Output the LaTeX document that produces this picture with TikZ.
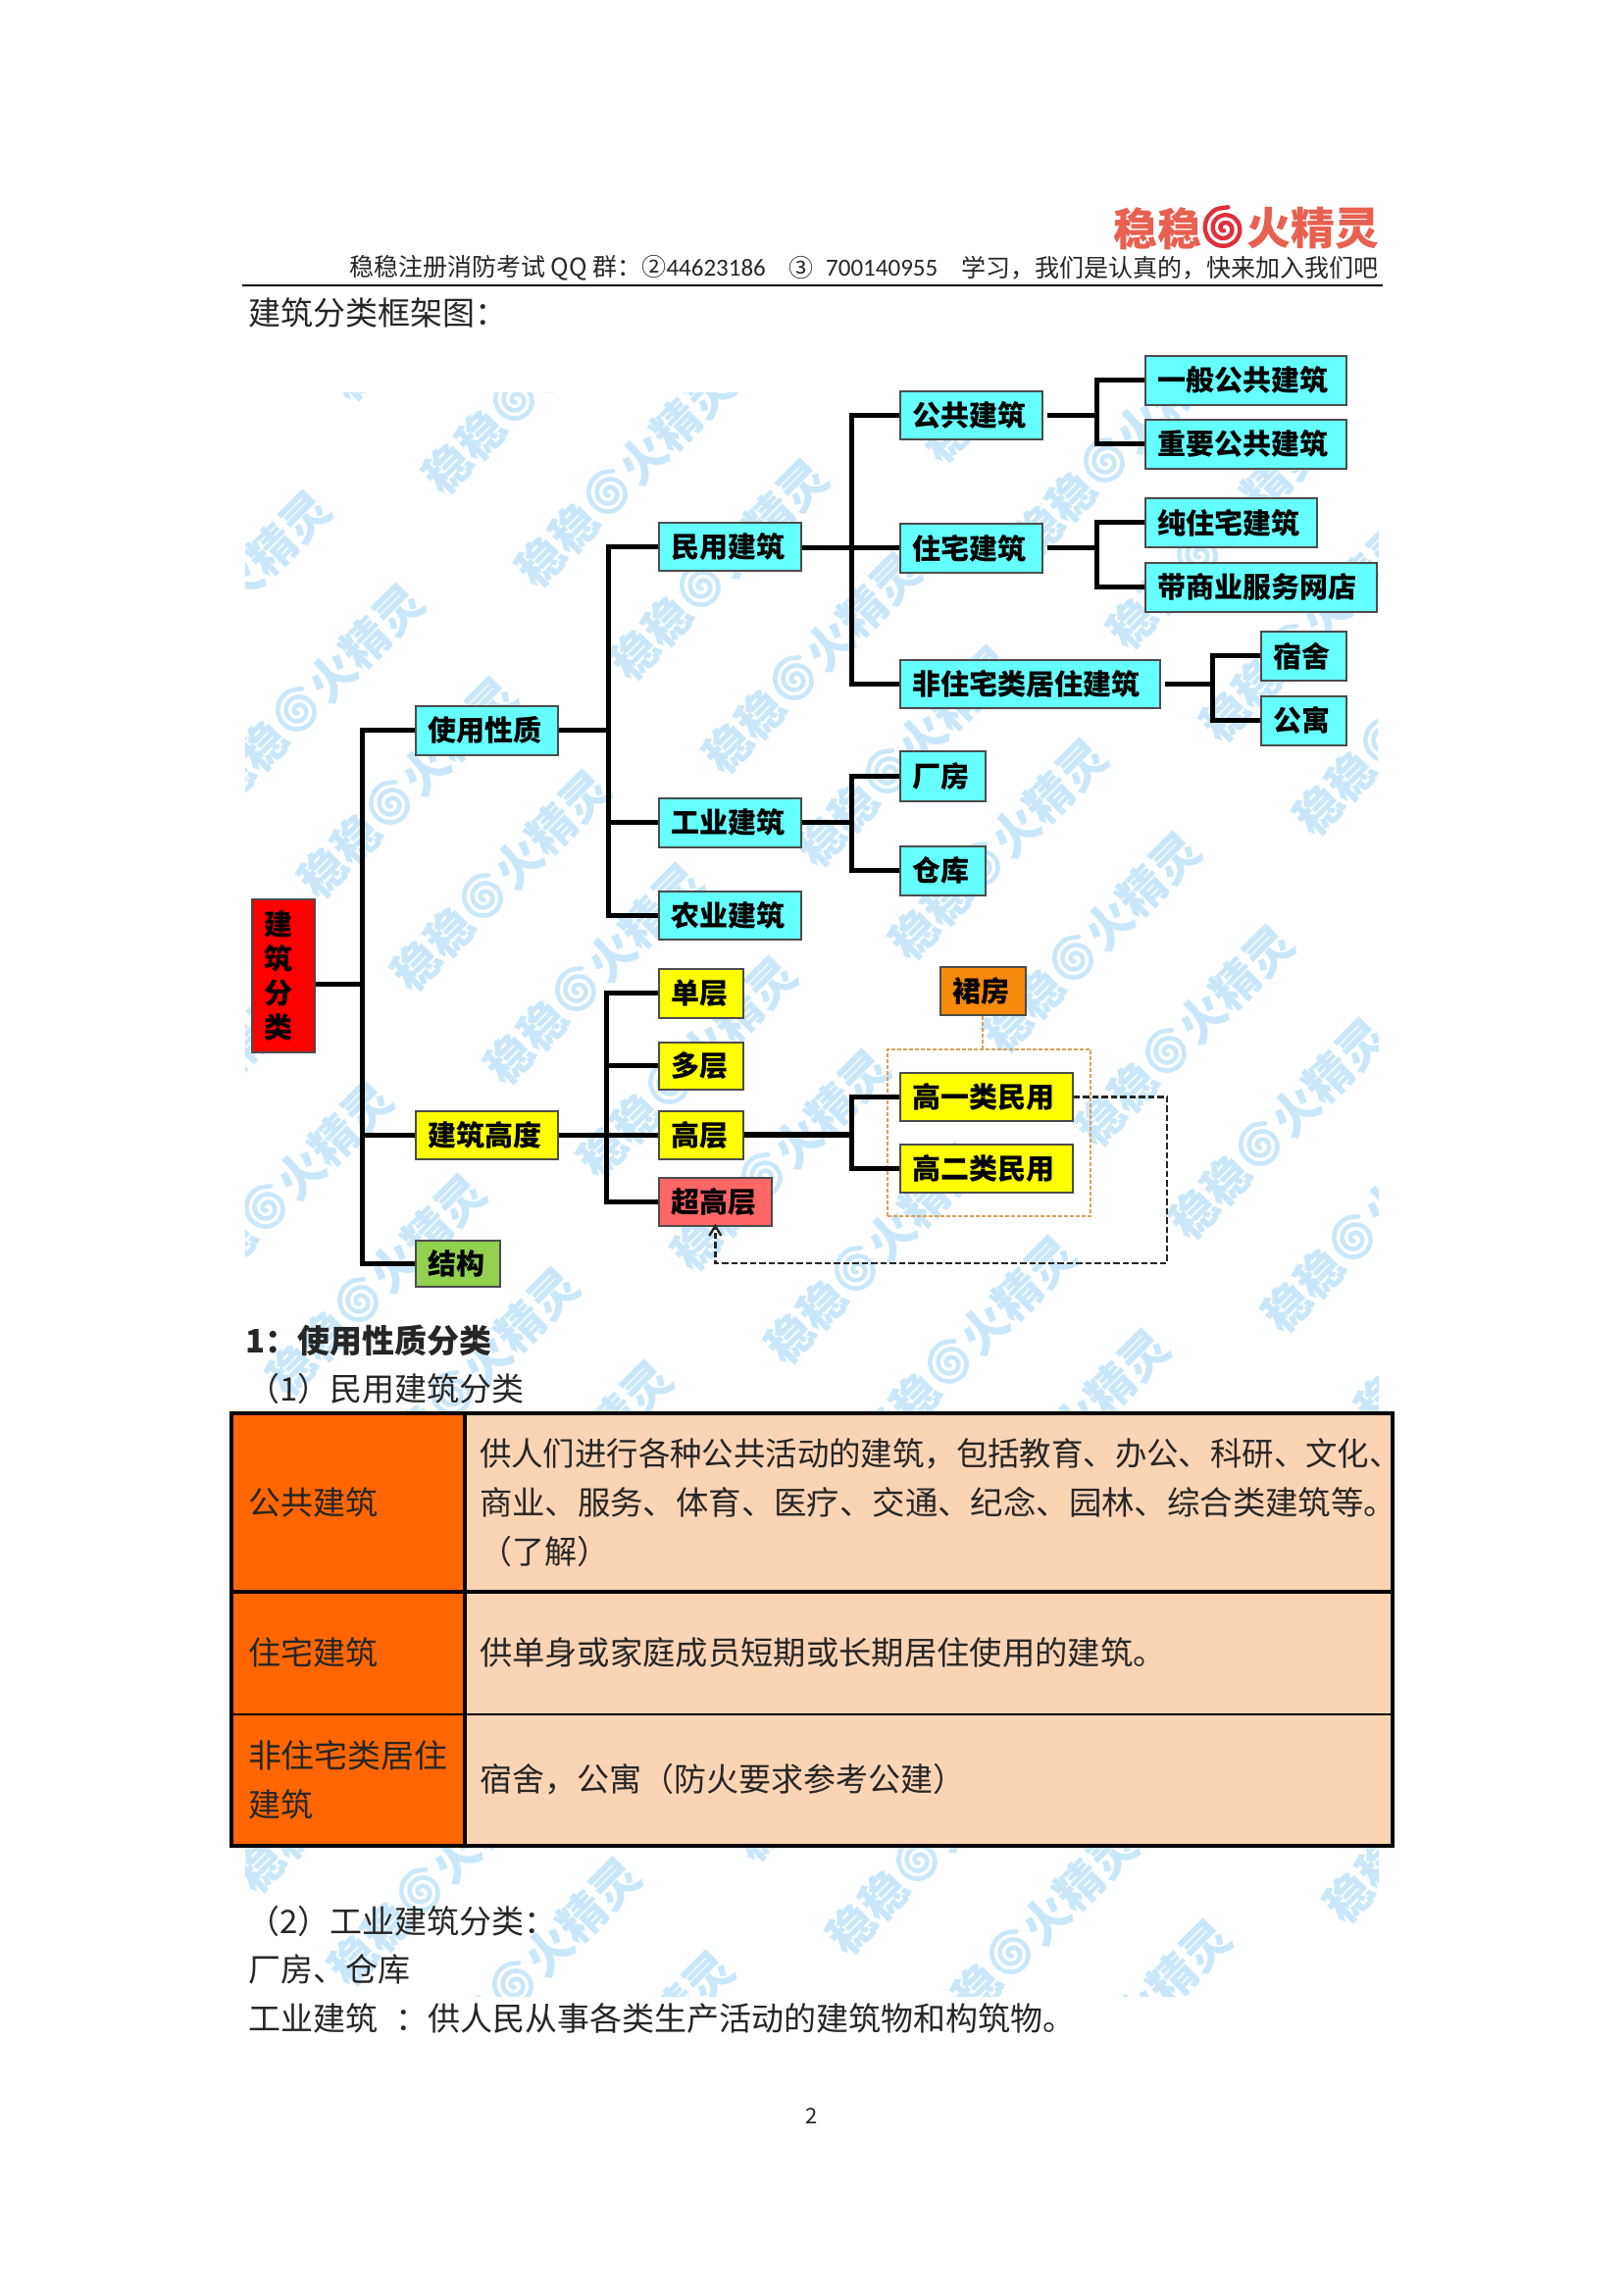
\documentclass[tikz,border=0pt]{standalone}
\usepackage{fontspec}
\usepackage{graphicx}
\setmainfont{Noto Sans CJK SC}
\newfontfamily\digitfont{Carlito}
\usetikzlibrary{arrows.meta}
\definecolor{cyanbox}{HTML}{66FFFF}
\definecolor{yelbox}{HTML}{FFFF00}
\definecolor{redbox}{HTML}{FF0000}
\definecolor{pinkbox}{HTML}{FF6666}
\definecolor{greenbox}{HTML}{92D050}
\definecolor{orbox}{HTML}{F58A0B}
\definecolor{taborange}{HTML}{FF6600}
\definecolor{tabpeach}{HTML}{FBD4B4}
\definecolor{wmblue}{HTML}{CAE7FA}
\definecolor{logored}{HTML}{E8604F}
\definecolor{logospiral}{HTML}{E0303A}
\definecolor{dashor}{HTML}{D8A060}
\tikzset{
  x=1pt,y=-1pt,
  nbox/.style={draw=black!70,line width=1.6pt,inner xsep=13pt,inner ysep=0pt,align=left,anchor=north west,
    font=\bfseries\fontsize{29}{35}\selectfont},
  conn/.style={draw=black,line width=5pt,line cap=butt,line join=miter},
  cell/.style={draw=black,line width=2pt,inner xsep=16pt,inner ysep=0pt,align=left,anchor=north west,
    font=\fontsize{33}{50}\selectfont,text=black!85},
  plain/.style={anchor=west,inner sep=0pt,text=black!85,font=\fontsize{33}{40}\selectfont},
  wmtext/.style={inner sep=0pt,rotate=45,text=wmblue,font=\bfseries\fontsize{48}{48}\selectfont},
  logotext/.style={inner sep=0pt,text=logored,font=\bfseries\fontsize{45}{45}\selectfont},
  headtext/.style={anchor=west,inner sep=0pt,font=\fontsize{25}{28}\selectfont,text=black!85},
  orangedash/.style={draw=dashor,line width=2pt,dash pattern=on 4pt off 2pt},
  blackdash/.style={draw=black!85,line width=2.4pt,dash pattern=on 6.5pt off 3pt},
}
% name, x1, y1, x2, y2, fill, text
\newcommand{\bx}[7]{%
  \pgfmathsetmacro{\bw}{#4-#2}\pgfmathsetmacro{\bh}{#5-#3}\pgfmathsetmacro{\btw}{#4-#2-26}%
  \node[nbox,fill=#6,minimum width=\bw pt,minimum height=\bh pt,text width=\btw pt] (#1) at (#2,#3) {#7};}
\newcommand{\tc}[7]{%
  \pgfmathsetmacro{\bw}{#4-#2}\pgfmathsetmacro{\bh}{#5-#3}\pgfmathsetmacro{\btw}{#4-#2-32}%
  \node[cell,fill=#6,minimum width=\bw pt,minimum height=\bh pt,text width=\btw pt] (#1) at (#2,#3) {#7};}
% x, y, radius, colour
\newcommand{\spiralmark}[4]{%
  \draw[line width=#3*0.2 pt,color=#4,line cap=round] plot[smooth,domain=100:1000,samples=28]
    ({#1+#3*(\x/1000)*cos(\x)},{#2+#3*(\x/1000)*sin(\x)});}
\begin{document}
\begin{tikzpicture}
\path[use as bounding box,fill=white] (0,0) rectangle (1655,2340);

% watermark
\begin{scope}
\clip (250,400) rectangle (1405,2035);
\foreach \j in {-1,...,4}{
  \foreach \i in {-6,...,14}{
    \pgfmathsetmacro{\wx}{621+95*\i-222*\j}
    \pgfmathsetmacro{\wy}{503+95*\i+317*\j}
    \pgfmathtruncatemacro{\wshow}{(\wx>125)*(\wx<1530)*(\wy>275)*(\wy<2160)*(1-(\wy>1540)*(\wy<1780))}
    \ifnum\wshow=1
      \spiralmark{\wx}{\wy}{23}{wmblue}
      \node[wmtext,anchor=east] (wma\i x\j) at (\wx-18,\wy+18) {稳稳};
      \node[wmtext,anchor=west] (wmb\i x\j) at (\wx+18,\wy-18) {火精灵};
    \fi
  }
}
\end{scope}

% header
\node[logotext,anchor=east] (logoa) at (1226,233) {稳稳};
\spiralmark{1248.5}{233}{22}{logospiral}
\node[logotext,anchor=west] (logob) at (1271,233) {火精灵};
\node[headtext] (heada) at (356,273) {稳稳注册消防考试 QQ 群：②{\digitfont 44623186}};
\node[headtext] (headb) at (804,273) {③};
\node[headtext] (headd) at (842,273) {\digitfont 700140955};
\node[headtext] (headc) at (980,273) {学习，我们是认真的，快来加入我们吧};
\coordinate (rulea) at (247,291);
\coordinate (ruleb) at (1410,291);
\draw[line width=2.5pt] (rulea) -- (ruleb);
\node[plain] (title) at (253,319) {建筑分类框架图：};

% diagram boxes
\bx{root}{256}{916}{320}{1072}{redbox}{建\\筑\\分\\类}
\bx{syxz}{423}{719}{568}{769}{cyanbox}{使用性质}
\bx{jzgd}{423}{1132}{568}{1181}{yelbox}{建筑高度}
\bx{jg}{423}{1264}{509}{1311}{greenbox}{结构}
\bx{mv}{671}{532}{816}{581}{cyanbox}{民用建筑}
\bx{gy}{671}{813}{816}{863}{cyanbox}{工业建筑}
\bx{ny}{671}{908}{816}{957}{cyanbox}{农业建筑}
\bx{gg}{917}{398}{1062}{447}{cyanbox}{公共建筑}
\bx{zz}{917}{533}{1062}{583}{cyanbox}{住宅建筑}
\bx{fz}{917}{672}{1182}{721}{cyanbox}{非住宅类居住建筑}
\bx{yb}{1167}{362}{1372}{412}{cyanbox}{一般公共建筑}
\bx{zy}{1167}{427}{1372}{477}{cyanbox}{重要公共建筑}
\bx{cz}{1167}{507}{1342}{557}{cyanbox}{纯住宅建筑}
\bx{ds}{1167}{573}{1403}{623}{cyanbox}{带商业服务网店}
\bx{ss}{1285}{643}{1372}{693}{cyanbox}{宿舍}
\bx{gu}{1285}{709}{1372}{759}{cyanbox}{公寓}
\bx{cf}{917}{765}{1004}{816}{cyanbox}{厂房}
\bx{ck}{917}{862}{1004}{912}{cyanbox}{仓库}
\bx{dc}{671}{987}{757}{1037}{yelbox}{单层}
\bx{dd}{671}{1062}{757}{1110}{yelbox}{多层}
\bx{gc}{671}{1132}{757}{1181}{yelbox}{高层}
\bx{cg}{671}{1200}{786}{1249}{pinkbox}{超高层}
\bx{qf}{958}{985}{1045}{1034}{orbox}{裙房}
\bx{ha}{917}{1093}{1093}{1142}{yelbox}{高一类民用}
\bx{hb}{917}{1166}{1093}{1215}{yelbox}{高二类民用}
\node[orangedash,draw,minimum width=207pt,minimum height=170pt,inner sep=0pt,anchor=north west] (hbox) at (904,1069) {};

% trunk positions
\coordinate (ta) at (369,0);
\coordinate (tb) at (620,0);
\coordinate (tc) at (618,0);
\coordinate (td) at (868,0);
\coordinate (te) at (1118,0);
\coordinate (tf) at (1236,0);

% connectors, level 1
\draw[conn] ([yshift=-9pt]root.east) -- ([yshift=-9pt]root.east -| ta);
\draw[conn] (syxz.west) -- (syxz.west -| ta) -- (jg.west -| ta) -- (jg.west);
\draw[conn] (jzgd.west) -- (jzgd.west -| ta);
% use
\draw[conn] (syxz.east) -- (syxz.east -| tb);
\draw[conn] (mv.west) -- (mv.west -| tb) -- (ny.west -| tb) -- (ny.west);
\draw[conn] (gy.west) -- (gy.west -| tb);
\draw[conn] (zz.west -| mv.east) -- (zz.west);
\draw[conn] (gg.west) -- (gg.west -| td) -- (fz.west -| td) -- (fz.west);
\draw[conn] ([xshift=4pt]gg.east) -- (gg.east -| te);
\draw[conn] (yb.west) -- (yb.west -| te) -- (zy.west -| te) -- (zy.west);
\draw[conn] ([xshift=4pt]zz.east) -- (zz.east -| te);
\draw[conn] (cz.west) -- (cz.west -| te) -- (ds.west -| te) -- (ds.west);
\draw[conn] ([xshift=4pt]fz.east) -- (fz.east -| tf);
\draw[conn] (ss.west) -- (ss.west -| tf) -- (gu.west -| tf) -- (gu.west);
\draw[conn] (gy.east) -- (gy.east -| td);
\draw[conn] (cf.west) -- (cf.west -| td) -- (ck.west -| td) -- (ck.west);
% height
\draw[conn] (jzgd.east) -- (gc.west);
\draw[conn] (dc.west) -- (dc.west -| tc) -- (cg.west -| tc) -- (cg.west);
\draw[conn] (dd.west) -- (dd.west -| tc);
\draw[conn,line width=6pt] (gc.east) -- (gc.east -| td);
\draw[conn] (ha.west) -- (ha.west -| td) -- (hb.west -| td) -- (hb.west);
% dashed
\draw[orangedash] (qf.south) -- (qf.south |- hbox.north);
\coordinate (dashcorner) at (1190,1288);
\draw[blackdash,-{Straight Barb[length=10pt,width=12pt]}] (ha.east) -| (dashcorner) -| ([yshift=3pt]cg.south);

% text blocks
\node[plain,font=\bfseries\fontsize{33}{40}\selectfont] (h1) at (250,1367) {1：使用性质分类};
\node[plain] (h2) at (252,1416) {（1）民用建筑分类};

% table
\tc{ca}{236}{1441}{472}{1621}{taborange}{公共建筑}
\tc{cb}{472}{1441}{1418}{1621}{tabpeach}{\scalebox{0.982}[1]{供人们进行各种公共活动的建筑，包括教育、办公、科研、文化、}\\\scalebox{1.012}[1]{商业、服务、体育、医疗、交通、纪念、园林、综合类建筑等。}\\（了解）}
\tc{cc}{236}{1621}{472}{1747}{taborange}{住宅建筑}
\tc{cd}{472}{1621}{1418}{1747}{tabpeach}{\scalebox{1.01}[1]{供单身或家庭成员短期或长期居住使用的建筑。}}
\tc{ce}{236}{1747}{472}{1880}{taborange}{\scalebox{1.03}[1]{非住宅类居住}\\建筑}
\tc{cf2}{472}{1747}{1418}{1880}{tabpeach}{宿舍，公寓（防火要求参考公建）}
\draw[line width=3.5pt] (ca.north west) rectangle (cf2.south east);
\draw[line width=3pt] (ca.north east) -- (ce.south east);
\draw[line width=3pt] (ca.south west) -- (cb.south east);

\node[plain] (p1) at (252,1959) {（2）工业建筑分类：};
\node[plain] (p2) at (253,2008) {厂房、仓库};
\node[plain] (p3) at (253,2058) {工业建筑\hspace{18pt}：供人民从事各类生产活动的建筑物和构筑物。};
\node[inner sep=0pt,font=\fontsize{22}{26}\selectfont,text=black!85] (pg) at (828,2157) {2};
\end{tikzpicture}
\end{document}
